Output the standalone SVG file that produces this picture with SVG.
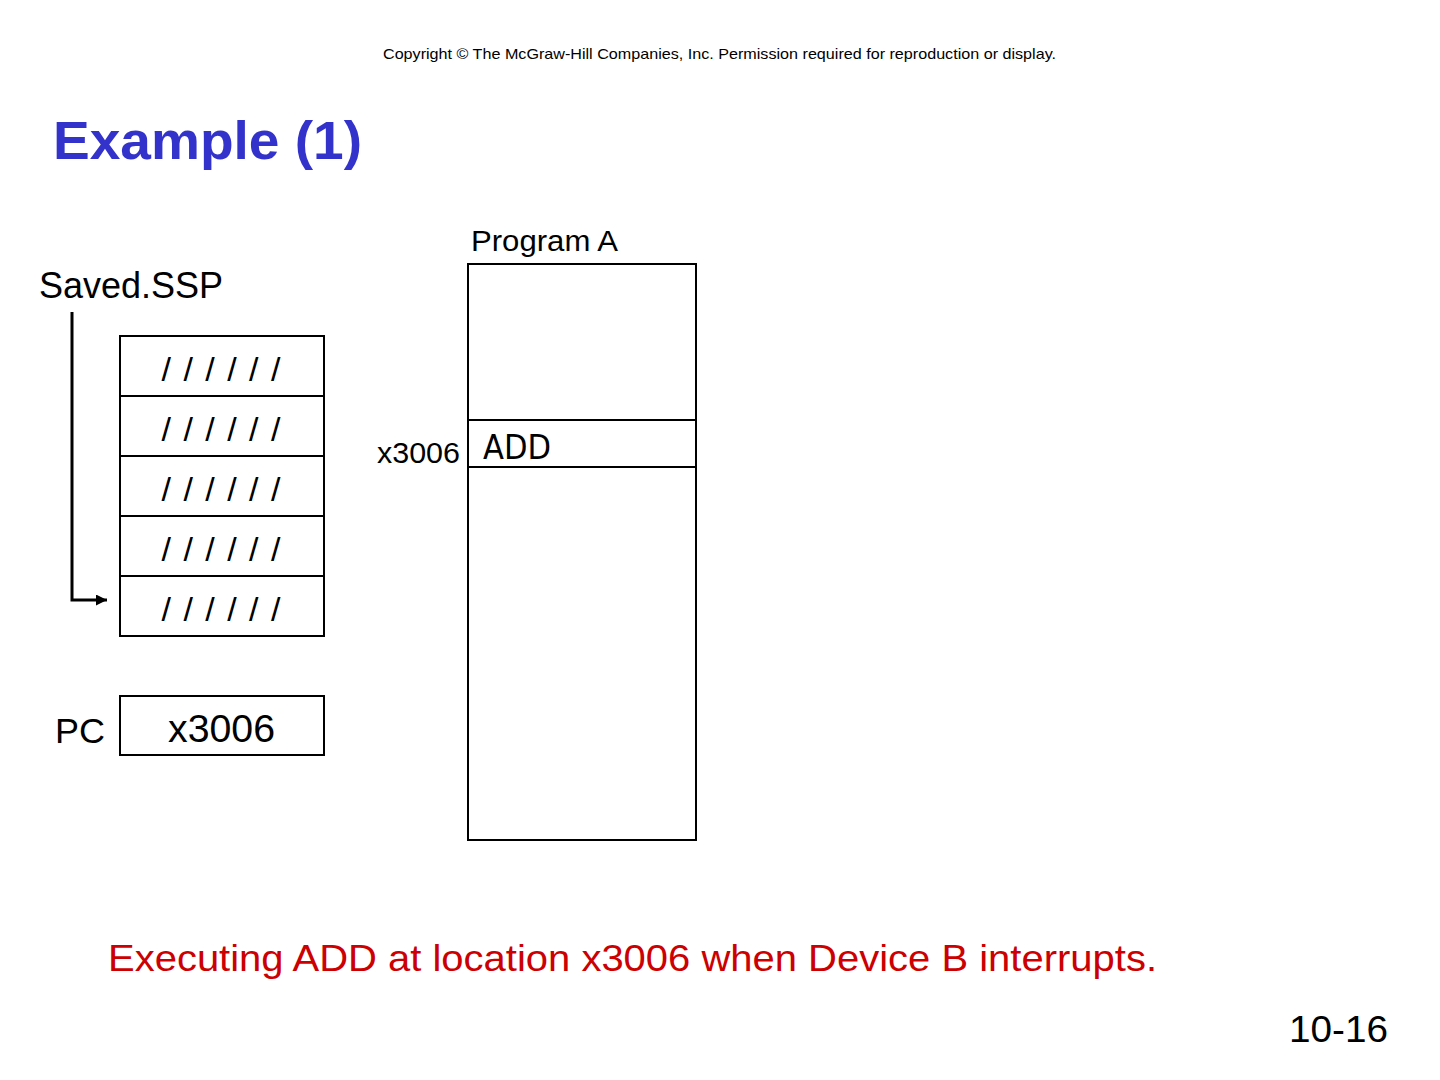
<svg xmlns="http://www.w3.org/2000/svg" width="1440" height="1080" viewBox="0 0 1440 1080">
<defs>
<style>
.t{font-family:"Liberation Sans",Arial,sans-serif;fill:#000}
.box{fill:#fff;stroke:#000;stroke-width:2}
.sl{font-family:"Liberation Sans",Arial,sans-serif;font-size:34px;word-spacing:3px;text-anchor:middle}
</style>
<marker id="ah" viewBox="0 0 10 10" refX="10" refY="5" markerWidth="14" markerHeight="11" markerUnits="userSpaceOnUse" orient="auto">
<path d="M0,0 L10,5 L0,10 z" fill="#000"/>
</marker>
</defs>
<rect width="1440" height="1080" fill="#fff"/>
<text class="t" x="383" y="59" font-size="15" textLength="673" lengthAdjust="spacingAndGlyphs">Copyright © The McGraw-Hill Companies, Inc.  Permission required for reproduction or display.</text>
<text x="53" y="159" font-family="Liberation Sans,Arial,sans-serif" font-weight="bold" font-size="53" fill="#3333CC" textLength="309" lengthAdjust="spacingAndGlyphs">Example (1)</text>

<g id="saved-ssp-label"><text class="t" x="39" y="298" font-size="36">Saved.SSP</text></g>

<g id="stack">
<rect class="box" x="120" y="336" width="204" height="60"/>
<rect class="box" x="120" y="396" width="204" height="60"/>
<rect class="box" x="120" y="456" width="204" height="60"/>
<rect class="box" x="120" y="516" width="204" height="60"/>
<rect class="box" x="120" y="576" width="204" height="60"/>
<text class="sl" x="221" y="381">/ / / / / /</text>
<text class="sl" x="221" y="441">/ / / / / /</text>
<text class="sl" x="221" y="501">/ / / / / /</text>
<text class="sl" x="221" y="561">/ / / / / /</text>
<text class="sl" x="221" y="621">/ / / / / /</text>
</g>

<g id="pc">
<text class="t" x="55" y="743" font-size="35" textLength="50" lengthAdjust="spacingAndGlyphs">PC</text>
<rect class="box" x="120" y="696" width="204" height="59"/>
<text class="t" x="168" y="742" font-size="38" textLength="107" lengthAdjust="spacingAndGlyphs">x3006</text>
</g>

<g id="program-a">
<text class="t" x="471" y="251" font-size="29" textLength="147" lengthAdjust="spacingAndGlyphs">Program A</text>
<rect class="box" x="468" y="264" width="228" height="576"/>
<line x1="468" y1="420" x2="696" y2="420" stroke="#000" stroke-width="2"/>
<line x1="468" y1="467" x2="696" y2="467" stroke="#000" stroke-width="2"/>
<text x="483" y="459" font-family="DejaVu Sans Condensed,DejaVu Sans,sans-serif" font-stretch="condensed" font-size="34" fill="#000">ADD</text>
<text class="t" x="377" y="463" font-size="29" textLength="83" lengthAdjust="spacingAndGlyphs">x3006</text>
</g>

<g id="connectors">
<polyline points="72,312 72,600 107,600" fill="none" stroke="#000" stroke-width="3" marker-end="url(#ah)"/>
</g>

<text x="108" y="971" font-family="Liberation Sans,Arial,sans-serif" font-size="36" fill="#CC0000" textLength="1049" lengthAdjust="spacingAndGlyphs">Executing ADD at location x3006 when Device B interrupts.</text>
<text class="t" x="1289" y="1042" font-size="36" textLength="99" lengthAdjust="spacingAndGlyphs">10-16</text>
</svg>
